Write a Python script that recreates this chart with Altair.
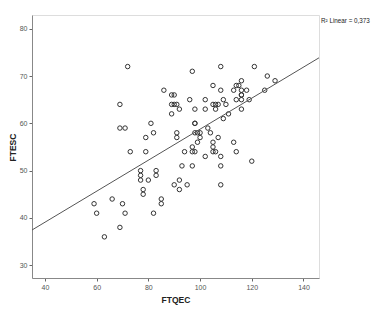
import altair as alt
import pandas as pd

ftqec = [59, 60, 63, 66, 69, 70, 71, 69, 69, 71, 72, 73, 77, 77, 77, 78, 78, 79, 79, 80,
         81, 82, 82, 83, 83, 85, 85, 86, 89, 89, 89, 90, 90, 91, 91, 91, 92, 90, 92, 92,
         93, 94, 95, 96, 97, 97, 97, 97, 98, 98, 98, 98, 98, 99, 99, 100, 100, 102, 102, 102,
         103, 104, 105, 105, 105, 105, 105, 106, 106, 106, 107, 107, 108, 108, 108, 108, 108,
         109, 109, 110, 111, 113, 113, 114, 114, 114, 115, 116, 116, 116, 116, 116, 116,
         118, 119, 120, 121, 125, 126, 129]
ftesc = [43, 41, 36, 44, 38, 43, 41, 64, 59, 59, 72, 54, 50, 49, 48, 46, 45, 57, 54, 48,
         60, 58, 41, 50, 49, 44, 43, 67, 64, 66, 62, 66, 64, 64, 58, 57, 63, 47, 48, 46,
         51, 54, 47, 65, 71, 55, 54, 51, 63, 60, 60, 58, 54, 58, 56, 58, 57, 65, 63, 53,
         59, 58, 68, 64, 56, 55, 54, 64, 63, 54, 64, 57, 72, 67, 53, 51, 47,
         65, 61, 64, 62, 67, 56, 68, 65, 54, 68, 69, 67, 66, 66, 65, 63,
         67, 65, 52, 72, 67, 70, 69]

x_ticks = [40, 60, 80, 100, 120, 140]
y_ticks = [30, 40, 50, 60, 70, 80]
x_domain = [35, 146]
y_domain = [27.3, 82.9]
r2_label = ["R\u00b2 Linear = 0,373"]

df = pd.DataFrame({"FTQEC": ftqec, "FTESC": ftesc})

xs = alt.Scale(domain=x_domain, nice=False, zero=False)
ys = alt.Scale(domain=y_domain, nice=False, zero=False)

xaxis = alt.Axis(values=x_ticks, grid=False, tickSize=3, labelFontSize=7,
                 labelColor="#555", tickColor="#666", domainColor="#888",
                 titleFontSize=8.5, titleFontWeight="bold", titleColor="#222",
                 titleY=21, titleBaseline="middle", labelPadding=2)
yaxis = alt.Axis(values=y_ticks, grid=False, tickSize=3, labelFontSize=7,
                 labelColor="#555", tickColor="#666", domainColor="#888",
                 titleFontSize=8.5, titleFontWeight="bold", titleColor="#222",
                 titleX=-20, titleY=132, titleAngle=-90, titleAlign="center",
                 titleBaseline="middle", labelPadding=2)

points = alt.Chart(df).mark_point(shape="circle", filled=False, size=20,
                                  strokeWidth=1, color="#333", opacity=1).encode(
    x=alt.X("FTQEC:Q", scale=xs, axis=xaxis),
    y=alt.Y("FTESC:Q", scale=ys, axis=yaxis),
)

line = alt.Chart(df).transform_regression(
    "FTQEC", "FTESC", extent=x_domain
).mark_line(color="#555", strokeWidth=1, clip=True).encode(
    x=alt.X("FTQEC:Q", scale=xs),
    y=alt.Y("FTESC:Q", scale=ys),
)

label = alt.Chart(pd.DataFrame({"t": r2_label})).mark_text(
    align="left", baseline="middle", fontSize=6.3, color="#222", font="Liberation Sans"
).encode(text="t:N", x=alt.value(289), y=alt.value(6))

chart = alt.layer(points, line, label).properties(
    width=287, height=263,
    autosize=alt.AutoSizeParams(type="none"),
    padding={"left": 32, "top": 15, "right": 58, "bottom": 33},
    background="white",
).configure_view(
    fill="#f0f0f0", stroke="#999", strokeWidth=1
).configure(font="Liberation Sans")

chart.save("out.html", embed_options={"renderer": "svg", "actions": False})
